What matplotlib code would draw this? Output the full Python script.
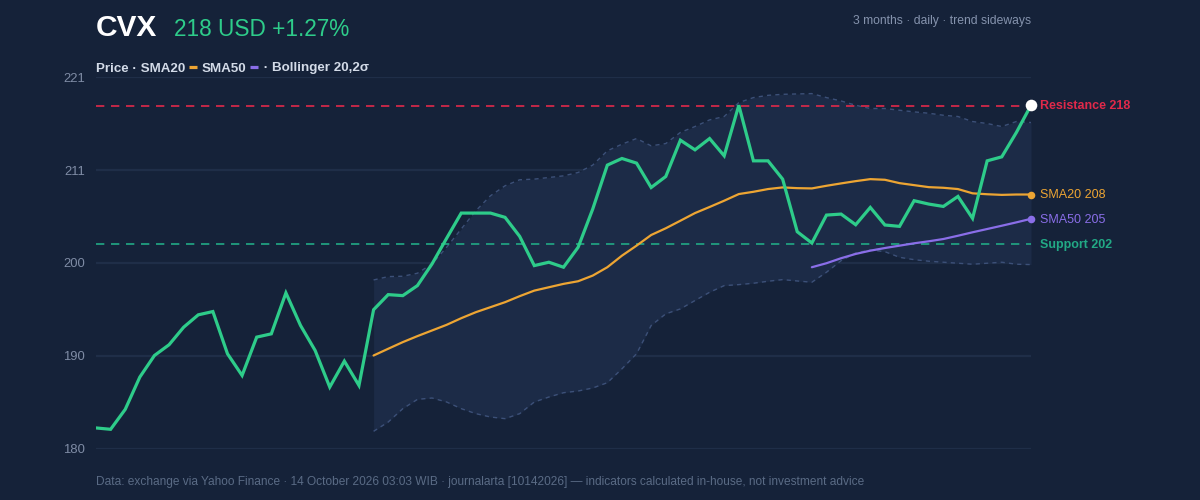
import matplotlib
matplotlib.use("Agg")
import matplotlib.pyplot as plt
from matplotlib.lines import Line2D
import numpy as np

# ---------------- data ----------------
price = [182.27, 182.12, 184.31, 187.86, 190.23, 191.41, 193.34, 194.70, 195.06, 190.42,
         188.04, 192.25, 192.61, 197.11, 193.53, 190.78, 186.76, 189.61, 186.94, 195.26,
         196.92, 196.81, 197.91, 200.29, 203.11, 205.88, 205.88, 205.88, 205.41, 203.32,
         200.11, 200.48, 199.93, 202.12, 206.32, 211.15, 211.88, 211.37, 208.69, 209.90,
         213.89, 212.83, 214.07, 212.17, 217.73, 211.62, 211.62, 209.61, 203.83, 202.59,
         205.66, 205.77, 204.60, 206.50, 204.57, 204.42, 207.24, 206.87, 206.61, 207.71,
         205.30, 211.62, 212.06, 214.74, 217.73]

sma20 = [190.23, 190.97, 191.70, 192.36, 192.98, 193.60, 194.33, 194.99, 195.54, 196.09,
         196.75, 197.36, 197.73, 198.10, 198.39, 199.01, 199.93, 201.20, 202.30, 203.47,
         204.21, 205.04, 205.88, 206.55, 207.24, 207.97, 208.22, 208.52, 208.70, 208.62,
         208.59, 208.88, 209.14, 209.39, 209.61, 209.54, 209.17, 208.95, 208.73, 208.66,
         208.52, 208.05, 207.95, 207.88, 207.92, 207.92]
sma20_start = 19

sma50 = [199.93, 200.37, 200.92, 201.39, 201.75, 202.04, 202.30, 202.56, 202.78, 203.03,
         203.39, 203.77, 204.13, 204.49, 204.86, 205.25]
sma50_start = 49

boll_upper = [198.53, 198.90, 198.94, 199.27, 200.29, 202.12, 204.13, 206.14, 207.78, 208.88,
              209.54, 209.61, 209.79, 209.97, 210.34, 211.15, 212.72, 213.45, 214.07, 213.27,
              213.52, 214.74, 215.39, 216.12, 216.49, 218.02, 218.57, 218.82, 218.93, 218.97,
              219.01, 218.57, 218.20, 217.73, 217.37, 217.37, 217.18, 217.00, 216.85, 216.63,
              216.49, 215.94, 215.72, 215.39, 215.94, 215.83]
boll_lower = [181.90, 182.92, 184.39, 185.41, 185.56, 185.12, 184.39, 183.84, 183.47, 183.29,
              183.84, 185.12, 185.67, 186.14, 186.33, 186.66, 187.24, 188.77, 190.42, 193.53,
              194.81, 195.35, 196.27, 197.18, 197.91, 198.02, 198.17, 198.39, 198.57, 198.42,
              198.28, 199.38, 200.65, 201.50, 201.83, 201.64, 201.02, 200.76, 200.59, 200.48,
              200.37, 200.26, 200.37, 200.48, 200.26, 200.22]
boll_start = 19

resistance = 217.7
support = 202.5

y_ticks = [180.0, 190.2, 200.4, 210.6, 220.8]
y_tick_labels = ["180", "190", "200", "211", "221"]

ticker = "CVX"
headline = "218 USD +1.27%"
subtitle = "3 months · daily · trend sideways"
footer = ("Data: exchange via Yahoo Finance · 14 October 2026 03:03 WIB · journalarta [10142026] "
          "— indicators calculated in-house, not investment advice")

# ---------------- style ----------------
BG = "#152239"
BAND = "#1c2b47"
BAND_EDGE = "#3c5078"
GRID = "#1f2e48"
GREEN = "#2ecc8a"
ORANGE = "#eda533"
PURPLE = "#8a6ee8"
RED = "#e0294a"
SUPPORT = "#22a985"
TICK = "#7f8ca5"
FONT = ["Liberation Sans", "DejaVu Sans"]

plt.rcParams["font.family"] = FONT

W, H = 1200, 500
fig = plt.figure(figsize=(W / 100, H / 100), dpi=100, facecolor=BG)
ax_left, ax_right, ax_top, ax_bot = 96, 1031, 77.3, 448.6
ax = fig.add_axes([ax_left / W, 1 - ax_bot / H, (ax_right - ax_left) / W, (ax_bot - ax_top) / H])
ax.set_facecolor(BG)

n = len(price)
x = np.arange(n)
ax.set_xlim(0, n - 1)
ax.set_ylim(y_ticks[0], y_ticks[-1])

for t in y_ticks:
    ax.axhline(t, color=GRID, lw=1.6, zorder=0)

xb = np.arange(boll_start, boll_start + len(boll_upper))
ax.fill_between(xb, boll_lower, boll_upper, color=BAND, lw=0, zorder=1)
ax.plot(xb, boll_upper, color=BAND_EDGE, lw=1.0, ls=(0, (3, 3)), zorder=2)
ax.plot(xb, boll_lower, color=BAND_EDGE, lw=1.0, ls=(0, (3, 3)), zorder=2)

ax.axhline(resistance, color=RED, lw=1.2, ls=(0, (5, 4)), zorder=2)
ax.axhline(support, color=SUPPORT, lw=1.2, ls=(0, (5, 4)), zorder=2)

x20 = np.arange(sma20_start, sma20_start + len(sma20))
x50 = np.arange(sma50_start, sma50_start + len(sma50))
ax.plot(x20, sma20, color=ORANGE, lw=1.6, zorder=3, solid_capstyle="round")
ax.plot(x50, sma50, color=PURPLE, lw=1.6, zorder=3, solid_capstyle="round")
ax.plot(x, price, color=GREEN, lw=2.3, zorder=4, solid_joinstyle="miter")

ax.scatter([x20[-1]], [sma20[-1]], s=30, color=ORANGE, zorder=5, lw=0, clip_on=False)
ax.scatter([x50[-1]], [sma50[-1]], s=30, color=PURPLE, zorder=5, lw=0, clip_on=False)
ax.scatter([x[-1]], [price[-1]], s=70, color="white", zorder=6, lw=0, clip_on=False)

for s in ax.spines.values():
    s.set_visible(False)
ax.set_xticks([])
ax.set_yticks(y_ticks)
ax.set_yticklabels(y_tick_labels)
ax.tick_params(axis="y", length=0, pad=8, labelcolor=TICK, labelsize=9.4)

# right-side labels
lbl_kw = dict(xycoords=("axes fraction", "data"), textcoords="offset points",
              va="center", ha="left", fontsize=9, annotation_clip=False)
ax.annotate(f"Resistance {resistance:.0f}", (1, resistance), xytext=(6.5, -0.5), color=RED,
            fontweight="bold", **lbl_kw)
ax.annotate(f"SMA20 {sma20[-1]:.0f}", (1, sma20[-1]), xytext=(6.5, -0.5), color=ORANGE, **lbl_kw)
ax.annotate(f"SMA50 {sma50[-1]:.0f}", (1, sma50[-1]), xytext=(6.5, -0.5), color=PURPLE, **lbl_kw)
ax.annotate(f"Support {support:.0f}", (1, support), xytext=(6.5, -0.5), color=SUPPORT,
            fontweight="bold", **lbl_kw)

# header
fig.text(96 / W, 1 - 28 / H, ticker, color="white", fontsize=21.5, fontweight="bold",
         va="center", ha="left")
fig.text(174 / W, 1 - 30 / H, headline, color=GREEN, fontsize=16.3, va="center", ha="left")
fig.text(1031 / W, 1 - 21 / H, subtitle, color="#8593ad", fontsize=8.75, va="center", ha="right")
fig.text(96 / W, 1 - 482 / H, footer, color="#5a6b85", fontsize=8.6, va="center", ha="left",
         family=["Liberation Sans Narrow", "Liberation Sans", "DejaVu Sans"])

# legend line
fig.canvas.draw()
r = fig.canvas.get_renderer()
LEG = "#d3dbe8"
ly = 1 - 68.5 / H
ly_dash = 1 - 67.3 / H
cx = 96.0
def put_text(s, cx):
    t = fig.text(cx / W, ly, s, color=LEG, fontsize=9.6, fontweight="bold", va="center", ha="left")
    bb = t.get_window_extent(r)
    return bb.x1
def put_dash(color, cx):
    fig.add_artist(Line2D([(cx + 4) / W, (cx + 12) / W], [ly_dash, ly_dash], color=color, lw=2.3,
                          transform=fig.transFigure, solid_capstyle="butt"))
    return cx + 16
cx = put_text("Price · SMA20", cx)
cx = put_dash(ORANGE, cx)
cx = put_text("SMA50", cx)
cx = put_dash(PURPLE, cx)
cx = put_text(" · Bollinger 20,2σ", cx - 2)

fig.savefig("out.png", dpi=100, facecolor=BG)
